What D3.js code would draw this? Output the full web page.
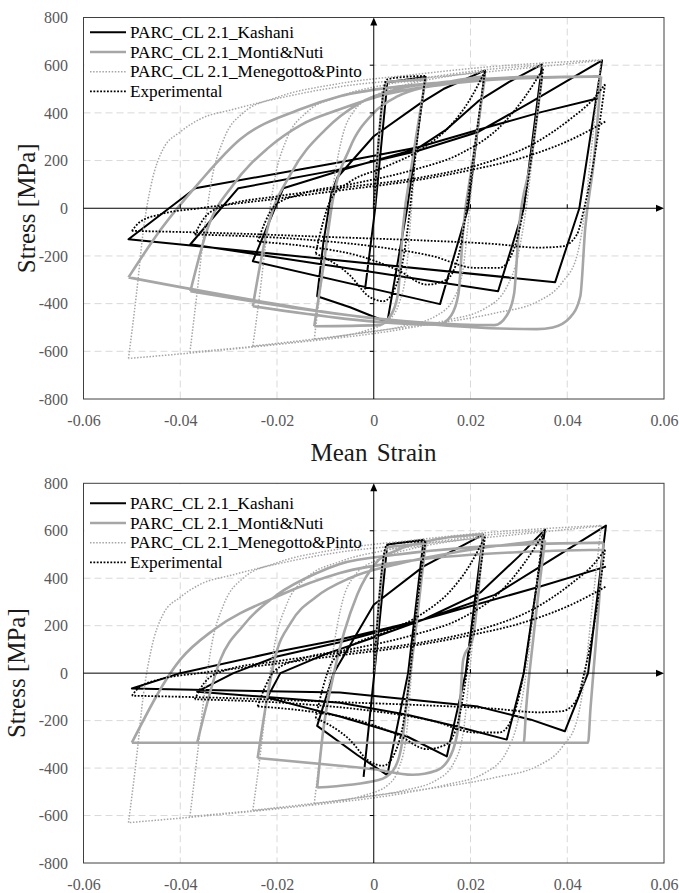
<!DOCTYPE html>
<html>
<head>
<meta charset="utf-8">
<script src="https://cdn.jsdelivr.net/npm/d3@7"></script>
<style>
  html, body { margin: 0; padding: 0; background: #fff; }
  svg { display: block; }
  svg text { font-family: "Liberation Serif", "DejaVu Serif", serif; }
</style>
</head>
<body>
<svg id="chart" width="679" height="893"></svg>
<script>
// ---- tick values -------------------------------------------------------
const strainTicks = [-0.06, -0.04, -0.02, 0, 0.02, 0.04, 0.06];
const stressTicks = [-800, -600, -400, -200, 0, 200, 400, 600, 800];
const seriesNames = ["PARC_CL 2.1_Kashani", "PARC_CL 2.1_Monti&Nuti",
                     "PARC_CL 2.1_Menegotto&Pinto", "Experimental"];

// ---- measured response (mean strain, stress MPa) -----------------------
const experimental = [
  [0,0],[0.0027,540],[0.006,550],[0.0107,555],
  [0.0085,200],[0.0075,0],[0.0062,-200],[0.0045,-330],[0.002,-390],[-0.001,-370],[-0.005,-280],[-0.009,-220],[-0.012,-190],
  [-0.0105,-60],[-0.0088,40],[-0.005,110],[0.002,170],[0.010,250],[0.016,350],[0.020,460],[0.023,575],
  [0.0205,200],[0.0192,0],[0.0175,-200],[0.015,-300],[0.011,-320],[0.005,-260],[-0.003,-200],[-0.012,-165],[-0.024,-140],
  [-0.0225,-60],[-0.0205,10],[-0.015,60],[-0.005,100],[0.008,160],[0.018,230],[0.026,340],[0.031,460],[0.035,585],
  [0.0325,200],[0.031,0],[0.029,-170],[0.026,-250],[0.021,-250],[0.012,-200],[0,-160],[-0.015,-130],[-0.037,-110],
  [-0.035,-40],[-0.031,10],[-0.02,50],[-0.005,90],[0.01,130],[0.023,190],[0.033,270],[0.041,380],[0.0455,460],[0.0478,520],
  [0.0455,200],[0.0435,0],[0.042,-110],[0.039,-160],[0.034,-165],[0.025,-150],[0.01,-135],[-0.01,-120],[-0.03,-105],[-0.05,-95],
  [-0.0485,-60],[-0.044,-25],[-0.036,0],[-0.02,40],[-0.007,75],[0.008,115],[0.02,160],[0.032,220],[0.041,290],[0.048,365]
];

// ---- Menegotto & Pinto model (same in both panels) ---------------------
const menegotto = [
  [0,0],[0.0026,520],[0.005,527],[0.0107,535],
  [0.0088,250],[0.0078,0],[0.0068,-250],[0.0052,-400],[0.003,-470],[-0.002,-515],[-0.0123,-550],
  [-0.0108,-300],[-0.0095,-88],[-0.0082,120],[-0.0065,300],[-0.004,410],[0.001,480],[0.008,525],[0.016,555],[0.023,575],
  [0.021,250],[0.0198,0],[0.0185,-250],[0.0165,-380],[0.013,-450],[0.006,-495],[-0.005,-530],[-0.015,-555],[-0.025,-578],
  [-0.0235,-350],[-0.022,-88],[-0.0205,120],[-0.018,290],[-0.014,400],[-0.007,470],[0.003,520],[0.015,560],[0.025,585],[0.035,600],
  [0.033,250],[0.0315,0],[0.0298,-200],[0.0275,-330],[0.023,-420],[0.015,-470],[0.005,-510],[-0.01,-550],[-0.025,-580],[-0.038,-604],
  [-0.0365,-350],[-0.035,-88],[-0.0335,120],[-0.031,290],[-0.027,400],[-0.02,465],[-0.008,520],[0.008,560],[0.025,595],[0.036,610],[0.047,622],
  [0.045,250],[0.0437,0],[0.042,-200],[0.039,-310],[0.034,-390],[0.025,-440],[0.012,-485],[0,-515],[-0.015,-560],[-0.03,-592],[-0.0507,-630],
  [-0.049,-350],[-0.0476,-88],[-0.046,100],[-0.0435,250],[-0.04,320],[-0.036,373],[-0.029,415],[-0.02,460],[-0.007,510],[0.01,545],[0.03,585],[0.047,620]
];

// ---- Kashani model, upper panel ----------------------------------------
const kashaniA = [
  [-0.0018,-340],[0.0003,0],[0.0028,528],[0.0107,550],
  [0.0069,0],[0.0028,-478],[-0.0049,-415],[-0.0117,-369],
  [-0.0104,-142],[-0.0088,60],[-0.0075,130],[0,302],[0.0096,440],[0.0144,500],[0.023,578],
  [0.0195,0],[0.0137,-402],[-0.025,-222],
  [-0.0187,84],[-0.005,170],[0.009,250],[0.015,330],[0.0216,449],[0.028,530],[0.0348,603],
  [0.031,0],[0.0257,-348],[-0.0379,-151],
  [-0.028,84],[-0.007,163],[0.009,240],[0.0216,320],[0.0324,444],[0.0472,620],
  [0.0425,0],[0.0375,-310],[-0.0507,-130],
  [-0.0369,84],[-0.007,193],[0.009,255],[0.022,331],[0.0344,402],[0.0464,461]
];

// ---- Monti & Nuti model, upper panel -----------------------------------
const montiA = [
  [0,0],[0.0027,530],[0.006,535],[0.0107,540],
  [0.008,200],[0.006,-88],[0.005,-360],[0.0035,-450],[0.001,-490],[-0.0123,-495],
  [-0.0104,-243],[-0.0085,30],[-0.005,250],[0,400],[0.005,470],[0.012,515],[0.023,553],
  [0.0205,200],[0.0185,-88],[0.0175,-360],[0.016,-450],[0.0135,-488],[-0.025,-411],
  [-0.022,-88],[-0.017,150],[-0.010,330],[-0.003,440],[0.005,500],[0.015,530],[0.0348,553],
  [0.0325,200],[0.030,-88],[0.029,-360],[0.0275,-450],[0.025,-490],[-0.0379,-348],
  [-0.0344,-88],[-0.029,100],[-0.022,250],[-0.015,350],[-0.007,415],[0.003,480],[0.015,520],[0.03,545],[0.047,553],
  [0.0455,200],[0.0437,-88],[0.0427,-369],[0.0405,-460],[0.037,-500],[0.0337,-507],[-0.0507,-290],
  [-0.044,-88],[-0.036,110],[-0.0276,289],[-0.0152,415],[-0.007,470],[0.005,510],[0.02,535],[0.035,548],[0.047,553]
];

// ---- Kashani model, lower panel ----------------------------------------
const kashaniB = [
  [-0.0021,-437],[0.0003,36],[0.0028,542],[0.0103,562],
  [0.0071,0],[0.0028,-430],[-0.0034,-345],[-0.0117,-222],
  [-0.0083,0],[0,288],[0.0103,450],[0.0226,584],
  [0.019,0],[0.0151,-351],[0.0069,-267],[0,-225],[-0.007,-183],[-0.022,-103],
  [-0.0193,0],[-0.010,80],[0,150],[0.0103,226],[0.022,339],[0.030,492],[0.0354,605],
  [0.031,0],[0.0275,-280],[0.0172,-225],[0.0069,-175],[-0.007,-125],[-0.0365,-78],
  [-0.029,0],[-0.02,70],[-0.007,130],[0.0103,226],[0.025,330],[0.0344,449],[0.048,622],
  [0.0443,0],[0.0395,-245],[0.0325,-196],[0.0216,-141],[-0.007,-82],[-0.05,-65],
  [-0.04,0],[-0.02,90],[-0.007,142],[0.0103,226],[0.0344,365],[0.048,449]
];

// ---- Monti & Nuti model, lower panel -----------------------------------
const montiB = [
  [0,0],[0.0027,530],[0.006,538],[0.0107,545],
  [0.0085,150],[0.007,-88],[0.0058,-300],[0.004,-410],[0.001,-450],[-0.0117,-482],
  [-0.0105,-250],[-0.0083,-6],[-0.0034,331],[0.0007,470],[0.005,520],[0.012,560],[0.0226,585],
  [0.0205,150],[0.0185,57],[0.0175,-225],[0.0158,-351],[0.013,-410],[0.008,-428],[0,-405],[-0.007,-390],[-0.024,-358],
  [-0.022,-100],[-0.0205,57],[-0.017,217],[-0.012,320],[-0.005,400],[0.005,460],[0.02,520],[0.0354,560],
  [0.033,150],[0.0315,-150],[0.031,-293],[-0.0365,-293],
  [-0.0317,57],[-0.027,200],[-0.02,330],[-0.012,420],[-0.007,460],[0.005,500],[0.02,530],[0.035,545],[0.0475,550],
  [0.046,150],[0.0448,-150],[0.0443,-293],[-0.05,-293],
  [-0.04,57],[-0.033,184],[-0.02,323],[-0.007,422],[0.01,480],[0.03,510],[0.0475,520]
];

// ---- layout -------------------------------------------------------------
const plotLeft = 83.5, plotRight = 664;
const panels = [
  { top: 17.5, bottom: 399, kashani: kashaniA, monti: montiA, legendTop: 32.3, titleX: 26 },
  { top: 483.3, bottom: 863, kashani: kashaniB, monti: montiB, legendTop: 503.3, titleX: 16 }
];

const styles = [
  { stroke: "#000000", width: 2.0, dash: null, smooth: false },
  { stroke: "#a6a6a6", width: 2.6, dash: null, smooth: true },
  { stroke: "#a6a6a6", width: 1.5, dash: "1.5,1.6", smooth: true },
  { stroke: "#000000", width: 1.8, dash: "1.8,1.6", smooth: true }
];

// split a loading history into branches of one strain direction
function branches(data) {
  const out = [];
  let cur = [data[0]], dir = 0;
  for (let i = 1; i < data.length; i++) {
    const d = Math.sign(data[i][0] - data[i - 1][0]);
    if (dir !== 0 && d !== dir) { out.push(cur); cur = [data[i - 1]]; }
    dir = d;
    cur.push(data[i]);
  }
  out.push(cur);
  return out;
}

const svg = d3.select("#chart");
const fmt = v => String(v);

panels.forEach((p, i) => {
  const x = d3.scaleLinear().domain([-0.06, 0.06]).range([plotLeft, plotRight]);
  const y = d3.scaleLinear().domain([-800, 800]).range([p.bottom, p.top]);
  const g = svg.append("g");

  // dashed grid
  g.selectAll("line.hgrid").data(stressTicks.filter(v => v !== 0 && Math.abs(v) !== 800))
    .join("line").attr("x1", plotLeft).attr("x2", plotRight)
    .attr("y1", d => y(d)).attr("y2", d => y(d))
    .attr("stroke", "#d9d9d9").attr("stroke-width", 1).attr("stroke-dasharray", "7,4");
  g.selectAll("line.vgrid").data(strainTicks.filter(v => v !== 0 && Math.abs(v) !== 0.06))
    .join("line").attr("y1", p.top).attr("y2", p.bottom)
    .attr("x1", d => x(d)).attr("x2", d => x(d))
    .attr("stroke", "#d9d9d9").attr("stroke-width", 1).attr("stroke-dasharray", "7,4");

  // legend background
  g.append("rect").attr("x", plotLeft + 1).attr("y", p.top + 1)
    .attr("width", x(0) - plotLeft - 3).attr("height", p.legendTop - p.top + 68)
    .attr("fill", "#ffffff");

  // axis tick labels
  const ay = g.append("g").attr("transform", `translate(${plotLeft},0)`)
    .call(d3.axisLeft(y).tickValues(stressTicks).tickFormat(fmt).tickSize(0).tickPadding(15.5));
  const ax = g.append("g").attr("transform", `translate(0,${p.bottom})`)
    .call(d3.axisBottom(x).tickValues(strainTicks).tickFormat(fmt).tickSize(0).tickPadding(15.6));
  [ay, ax].forEach(a => {
    a.attr("font-family", null).attr("font-size", null);
    a.select(".domain").remove();
    a.selectAll("text").attr("font-size", 16).attr("fill", "#595959");
  });

  // curves
  const clipId = "clip" + i;
  svg.append("clipPath").attr("id", clipId).append("rect")
    .attr("x", plotLeft).attr("y", p.top).attr("width", plotRight - plotLeft).attr("height", p.bottom - p.top);
  const curves = g.append("g").attr("clip-path", `url(#${clipId})`);
  const series = [p.kashani, p.monti, menegotto, experimental];
  series.forEach((data, k) => {
    const s = styles[k];
    const line = d3.line().x(d => x(d[0])).y(d => y(d[1]))
      .curve(s.smooth ? d3.curveMonotoneX : d3.curveLinear);
    const dPath = s.smooth ? branches(data).map(b => line(b)).join("") : line(data);
    curves.append("path").attr("d", dPath)
      .attr("fill", "none").attr("stroke", s.stroke).attr("stroke-width", s.width)
      .attr("stroke-linejoin", "round")
      .attr("stroke-dasharray", s.dash);
  });

  // frame
  g.append("rect").attr("x", plotLeft).attr("y", p.top)
    .attr("width", plotRight - plotLeft).attr("height", p.bottom - p.top)
    .attr("fill", "none").attr("stroke", "#404040").attr("stroke-width", 1);

  // centre axes with arrows
  const x0 = x(0), y0 = y(0);
  g.append("line").attr("x1", plotLeft).attr("x2", plotRight - 6).attr("y1", y0).attr("y2", y0)
    .attr("stroke", "#000").attr("stroke-width", 1);
  g.append("path").attr("d", `M${plotRight},${y0}L${plotRight - 8},${y0 - 3.5}L${plotRight - 8},${y0 + 3.5}Z`).attr("fill", "#000");
  g.append("line").attr("x1", x0).attr("x2", x0).attr("y1", p.bottom).attr("y2", p.top + 6)
    .attr("stroke", "#000").attr("stroke-width", 1);
  g.append("path").attr("d", `M${x0},${p.top}L${x0 - 3.5},${p.top + 8}L${x0 + 3.5},${p.top + 8}Z`).attr("fill", "#000");
  g.selectAll("line.yt").data(stressTicks.filter(v => v !== 0 && Math.abs(v) !== 800))
    .join("line").attr("x1", x0 - 4).attr("x2", x0).attr("y1", d => y(d)).attr("y2", d => y(d))
    .attr("stroke", "#000").attr("stroke-width", 1);
  g.selectAll("line.xt").data(strainTicks.filter(v => v !== 0 && Math.abs(v) !== 0.06))
    .join("line").attr("x1", d => x(d)).attr("x2", d => x(d)).attr("y1", y0 - 4).attr("y2", y0)
    .attr("stroke", "#000").attr("stroke-width", 1);

  // legend
  const leg = g.append("g");
  seriesNames.forEach((name, k) => {
    const ly = p.legendTop + k * 19.7;
    const s = styles[k];
    leg.append("line").attr("x1", 90).attr("x2", 126).attr("y1", ly).attr("y2", ly)
      .attr("stroke", s.stroke).attr("stroke-width", s.width).attr("stroke-dasharray", s.dash);
    leg.append("text").attr("x", 130).attr("y", ly).attr("dy", "0.33em")
      .attr("font-size", 17.2).attr("fill", "#000").text(name);
  });

  // y title
  const ty = (p.top + p.bottom) / 2;
  g.append("text").attr("transform", `translate(${p.titleX},${ty}) rotate(-90)`)
    .attr("text-anchor", "middle").attr("dy", "0.35em")
    .attr("font-size", 25).attr("fill", "#1a1a1a").text("Stress [MPa]");
});

// x title between the panels
svg.append("text").attr("x", 373.5).attr("y", 461).attr("text-anchor", "middle")
  .attr("font-size", 25).attr("fill", "#1a1a1a").attr("word-spacing", 3).text("Mean Strain");
</script>
</body>
</html>
